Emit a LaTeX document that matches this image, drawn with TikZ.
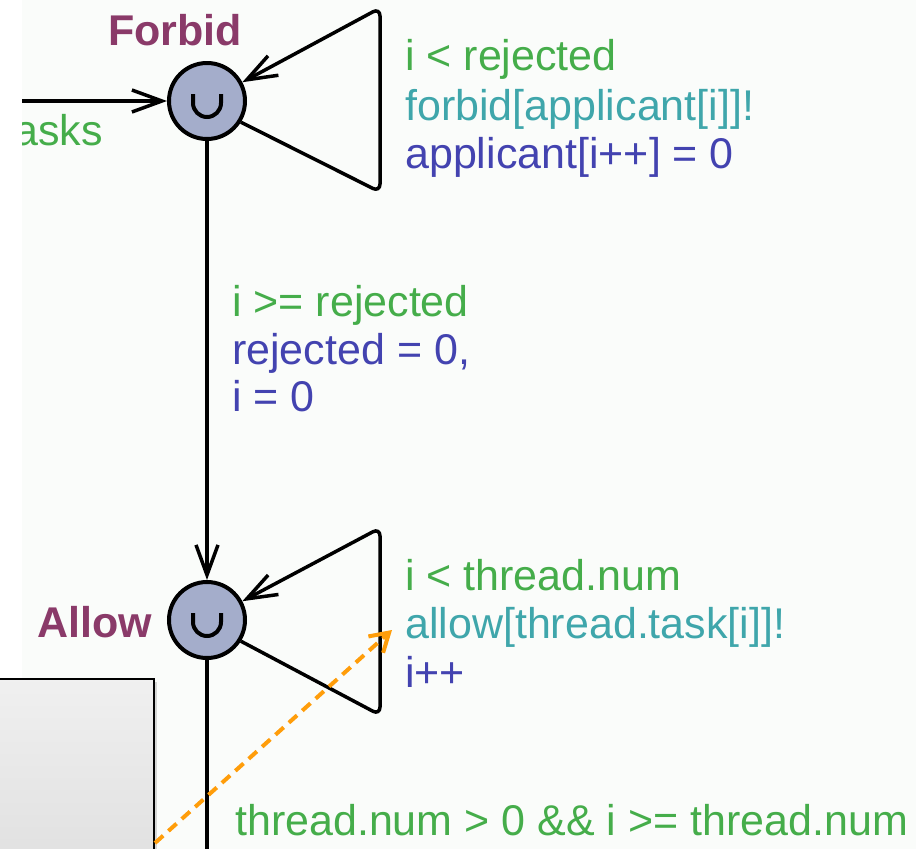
\documentclass[tikz,border=0pt]{standalone}
\usepackage{fontspec}
\setmainfont{Liberation Sans}
\usetikzlibrary{arrows.meta,positioning,calc}
\definecolor{CanvasBg}{HTML}{FAFCFA}
\definecolor{StateFill}{HTML}{A4ADCB}
\definecolor{NameMaroon}{HTML}{8A3A69}
\definecolor{GuardGreen}{HTML}{45AD4A}
\definecolor{SyncTeal}{HTML}{3FA6AB}
\definecolor{AssignBlue}{HTML}{4343B0}
\definecolor{NoteOrange}{HTML}{FF9D0A}
\newcommand{\labelfont}{\fontsize{43}{48}\selectfont}
\tikzset{
  location/.style={circle, draw, line width=4pt, fill=StateFill, minimum size=76pt, inner sep=0pt},
  locname/.style={font=\labelfont\bfseries, text=NameMaroon, inner sep=0pt, anchor=base west},
  guard/.style={font=\labelfont, text=GuardGreen, inner sep=0pt, anchor=base west},
  sync/.style={font=\labelfont, text=SyncTeal, inner sep=0pt, anchor=base west},
  assign/.style={font=\labelfont, text=AssignBlue, inner sep=0pt, anchor=base west},
  edge/.style={line width=3.5pt, -{Straight Barb[length=30pt, width=22pt, line width=3.5pt]}},
  loopedge/.style={edge, rounded corners=8pt},
  note/.style={draw, line width=2pt, top color=gray!12, bottom color=gray!25, minimum width=160pt, minimum height=200pt, anchor=north west, inner sep=0pt},
}
\begin{document}
\begin{tikzpicture}[x=1pt, y=-1pt]
    \useasboundingbox (0,0) rectangle (916,849);
    \clip (0,0) rectangle (916,849);
    \fill[CanvasBg] (0,0) rectangle (916,849);

    % locations
    \node[location] (forbid) at (207,101) {};
    \node[location] (allow) at (207,620) {};
    \foreach \loc in {forbid, allow}
        \draw[line width=4pt] ([shift={(-14,-7)}]\loc.center) -- ++(0,9) arc[start angle=180, end angle=360, radius=14pt] -- ++(0,-9);
    \node[locname] (forbidname) at (108,45) {Forbid};
    \node[locname, anchor=base] (allowname) at (95,637) {Allow};

    % incoming edge
    \coordinate (entry) at (10,101);
    \draw[edge] (entry) -- (forbid);
    \node[guard] (entryguard) at (14,145) {asks};

    % self loop on Forbid
    \coordinate (ftop) at (380,8);
    \coordinate (fbot) at (380,192);
    \draw[loopedge] (forbid.-32) -- (fbot) -- (ftop) -- (forbid.28);
    \node[guard] (fguard) at (405,70) {i < rejected};
    \node[sync] (fsync) at (405,120) {forbid[applicant[i]]!};
    \node[assign] (fassign) at (405,168) {applicant[i++] = 0};

    % Forbid to Allow
    \draw[edge] (forbid) -- (allow);
    \node[guard] (fwguard) at (232,316) {i >= rejected};
    \node[assign] (fwassign1) at (232,364) {rejected = 0,};
    \node[assign] (fwassign2) at (232,411) {i = 0};

    % self loop on Allow
    \coordinate (atop) at (380,528);
    \coordinate (abot) at (380,715);
    \draw[loopedge] (allow.-32) -- (abot) -- (atop) -- (allow.28);
    \node[guard] (aguard) at (405,590) {i < thread.num};
    \node[sync] (async) at (405,638) {allow[thread.task[i]]!};
    \node[assign] (aassign) at (405,687) {i++};

    % outgoing edge
    \coordinate (exit) at (207,870);
    \draw[line width=3.5pt] (allow) -- (exit);
    \node[guard] (exitguard) at (235,835) {thread.num > 0 \&\& i >= thread.num};

    % left strip
    \fill[white] (0,0) rectangle (22,678);

    % note box
    \fill[black!30, opacity=0.5] (-4,682) rectangle (157,860);
    \node[note] (notebox) at (-7,678) {};
    \coordinate (notehook) at ($(notebox.north east)+(0,165)$);
    \draw[NoteOrange, line width=4pt, dash pattern=on 11pt off 7pt, -{Straight Barb[length=18pt, width=22pt, line width=4pt]}] (notehook) -- (392,630);
\end{tikzpicture}
\end{document}
